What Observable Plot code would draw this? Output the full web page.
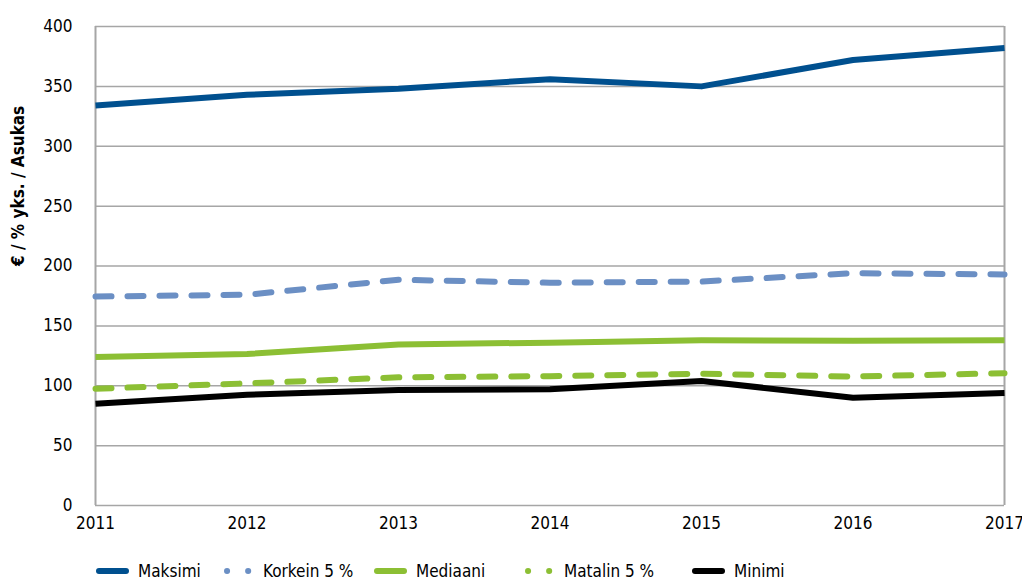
<!DOCTYPE html>
<html><head><meta charset="utf-8">
<script src="https://cdn.jsdelivr.net/npm/d3@7"></script>
<script src="https://cdn.jsdelivr.net/npm/@observablehq/plot@0.6"></script>
<style>
body{margin:0;background:#fff;font-family:"Liberation Sans Narrow","DejaVu Sans Condensed","Roboto",sans-serif;}
#wrap{position:relative;width:1022px;height:581px;}
#legend{position:absolute;left:0;top:558px;height:26px;width:1022px;}
#legend .it{position:absolute;top:0;display:flex;align-items:center;font-size:17px;color:#000;height:26px;}
#legend svg{margin-right:8px;}
</style></head>
<body><div id="wrap"><div id="chart"></div><div id="legend"></div></div>
<script>
const years = [2011, 2012, 2013, 2014, 2015, 2016, 2017];
const maksimi   = [334, 343, 348, 356, 350, 372, 382];
const korkein5  = [174.5, 176, 188.5, 186, 187, 194, 193];
const mediaani  = [124, 126.5, 134.5, 136, 138, 137.5, 138];
const matalin5  = [97.5, 102, 107, 108, 110, 107.7, 110.5];
const minimi    = [85, 92.5, 96.5, 97, 104, 90, 94];
const seriesNames = ["Maksimi", "Korkein 5 %", "Mediaani", "Matalin 5 %", "Minimi"];
const yTicks = [0, 50, 100, 150, 200, 250, 300, 350, 400];
const yLabel = "€ / % yks. / Asukas";

const styles = [
  {stroke: "#00508f", dash: null},
  {stroke: "#6b8fc4", dash: "16,16"},
  {stroke: "#8cbf34", dash: null},
  {stroke: "#8cbf34", dash: "16,16"},
  {stroke: "#000000", dash: null}
];
const allValues = [maksimi, korkein5, mediaani, matalin5, minimi];
const data = [];
allValues.forEach((vals, si) => vals.forEach((v, i) => data.push({series: seriesNames[si], year: years[i], value: v})));

const font = '"Liberation Sans Narrow","DejaVu Sans Condensed",sans-serif';
const lineMarks = seriesNames.map((name, si) => Plot.line(data.filter(d => d.series === name), {
  x: "year", y: "value", stroke: styles[si].stroke, strokeWidth: 6,
  strokeDasharray: styles[si].dash || undefined,
  strokeLinecap: styles[si].dash ? "round" : "butt",
  strokeLinejoin: "round"
}));

const chart = Plot.plot({
  width: 1022, height: 545,
  marginLeft: 95, marginRight: 18, marginTop: 26, marginBottom: 40,
  style: {fontFamily: font, fontSize: "17px", color: "#000", background: "#fff", overflow: "visible"},
  x: {domain: [2011, 2017], ticks: years, tickFormat: "d", tickSize: 0, tickPadding: 10, label: null},
  y: {domain: [0, 400], ticks: yTicks, tickSize: 0, tickPadding: 23, label: null},
  marks: [
    Plot.ruleY(yTicks, {stroke: "#a6a6a6", strokeWidth: 1.5}),
    Plot.ruleX([2011, 2017], {y1: 0, y2: 400, stroke: "#a6a6a6", strokeWidth: 2}),
    ...lineMarks,
    Plot.axisX({ticks: years, tickFormat: "d", tickSize: 0, tickPadding: 11, fontSize: 17, label: null}),
    Plot.axisY({ticks: yTicks, tickSize: 0, tickPadding: 23, label: null, fontSize: 17}),
    Plot.text([yLabel], {frameAnchor: "left", dx: -77, rotate: -90, fontWeight: "bold", fontSize: 17, text: d => d})
  ]
});
document.getElementById("chart").appendChild(chart);

const legendX = [96, 221, 374, 522, 692];
const leg = document.getElementById("legend");
seriesNames.forEach((name, si) => {
  const it = document.createElement("div");
  it.className = "it";
  it.style.left = legendX[si] + "px";
  const st = styles[si];
  const dashAttr = st.dash ? `stroke-dasharray="0.1,21" stroke-linecap="round"` : `stroke-linecap="round"`;
  const x1 = st.dash ? 6 : 3, x2 = st.dash ? 28 : 30;
  it.innerHTML = `<svg width="34" height="10"><line x1="${x1}" y1="5" x2="${x2}" y2="5" stroke="${st.stroke}" stroke-width="6" ${dashAttr}/></svg><span>${name}</span>`;
  leg.appendChild(it);
});
</script></body></html>
